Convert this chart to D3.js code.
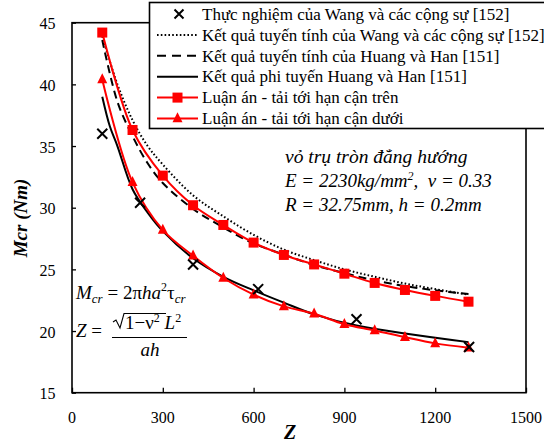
<!DOCTYPE html>
<html>
<head>
<meta charset="utf-8">
<title>Mcr vs Z</title>
<script src="https://cdn.jsdelivr.net/npm/d3@7/dist/d3.min.js"></script>
</head>
<body style="margin:0">
<div id="chart"></div>
<script>
// Critical torsional moment of an isotropic cylindrical shell versus Batdorf parameter Z
const xTicks = [0, 300, 600, 900, 1200, 1500];
const yTicks = [15, 20, 25, 30, 35, 40, 45];

// Experiment (Wang et al.)
const expZ = [100, 225, 400, 615, 940, 1312];
const expM = [36.0, 30.4, 25.4, 23.4, 20.95, 18.7];

// Linear result (Wang et al.)
const wangZ = [100, 150, 200, 250, 300, 400, 500, 600, 700, 800, 900, 1000, 1100, 1200, 1310];
const wangM = [43.9, 40.0, 37.1, 35.0, 33.5, 31.0, 29.3, 27.8, 26.6, 25.75, 25.0, 24.4, 23.85, 23.4, 22.95];

// Linear result (Huang and Han)
const huangLinZ = [100, 150, 200, 250, 300, 400, 500, 600, 700, 800, 900, 1000, 1100, 1200, 1310];
const huangLinM = [43.6, 38.6, 35.8, 33.6, 32.0, 29.9, 28.4, 27.1, 26.2, 25.35, 24.7, 24.1, 23.65, 23.3, 23.0];

// Nonlinear result (Huang and Han)
const huangNlZ = [100, 125, 150, 200, 250, 300, 400, 500, 600, 700, 800, 940, 1310];
const huangNlM = [39.0, 36.6, 35.0, 31.5, 29.6, 28.1, 25.9, 24.4, 23.3, 22.3, 21.35, 20.45, 19.1];

// Thesis: upper and lower bound critical loads
const boundZ = [100, 200, 300, 400, 500, 600, 700, 800, 900, 1000, 1100, 1200, 1310];
const upperM = [44.2, 36.3, 32.6, 30.2, 28.6, 27.17, 26.17, 25.4, 24.65, 23.9, 23.33, 22.85, 22.38];
const lowerM = [40.4, 32.06, 28.2, 26.1, 24.3, 22.95, 22.0, 21.4, 20.55, 20.05, 19.5, 19.0, 18.65];

const legendLabels = [
  "Thực nghiệm của Wang và các cộng sự [152]",
  "Kết quả tuyến tính của Wang và các cộng sự [152]",
  "Kết quả tuyến tính của Huang và Han [151]",
  "Kết quả phi tuyến Huang và Han [151]",
  "Luận án - tải tới hạn cận trên",
  "Luận án - tải tới hạn cận dưới"
];

const W = 544, H = 443;
const FONT = "Liberation Serif";
const RED = "#ff0000";

const svg = d3.select("#chart").append("svg").attr("width", W).attr("height", H);

// every label goes through this helper so it always carries the serif face
function label(parent, xPos, yPos, size, txt) {
  const t = parent.append("text").attr("font-family", FONT).attr("font-size", size)
    .attr("x", xPos).attr("y", yPos);
  if (txt !== undefined) t.text(txt);
  return t;
}
function run(t, txt, size) {
  const s = t.append("tspan").attr("font-family", FONT).text(txt);
  if (size) s.attr("font-size", size);
  return s;
}

const x = d3.scaleLinear().domain([0, 1500]).range([72, 526]);
const y = d3.scaleLinear().domain([15, 45]).range([392.7, 22.7]);

// inward tick marks from the axis generators; labels drawn with the serif helper
const gx = svg.append("g").attr("transform", `translate(0,${y(15)})`)
  .call(d3.axisBottom(x).tickValues(xTicks).tickFormat(() => "").tickSize(-5).tickSizeOuter(0));
const gy = svg.append("g").attr("transform", `translate(${x(0)},0)`)
  .call(d3.axisLeft(y).tickValues(yTicks).tickFormat(() => "").tickSize(-4).tickSizeOuter(0));
[gx, gy].forEach(g => {
  g.select(".domain").remove();
  g.selectAll(".tick text").remove();
  g.selectAll(".tick line").attr("stroke", "#000").attr("stroke-width", 1.3);
});
xTicks.forEach(v => label(svg, x(v), 422.5, 16, String(v)).attr("text-anchor", "middle"));
yTicks.forEach(v => label(svg, 55.5, y(v) + 6.5, 16, String(v)).attr("text-anchor", "end"));

// plot frame
svg.append("rect")
  .attr("x", x(0)).attr("y", y(45))
  .attr("width", x(1500) - x(0)).attr("height", y(15) - y(45))
  .attr("fill", "none").attr("stroke", "#000").attr("stroke-width", 1.6);

// axis titles
label(svg, 0, 0, 19, "Mcr (Nm)")
  .attr("transform", "translate(27,218) rotate(-90)")
  .attr("text-anchor", "middle").attr("font-weight", "bold").attr("font-style", "italic");
label(svg, 290, 439, 20, "Z")
  .attr("text-anchor", "middle").attr("font-weight", "bold").attr("font-style", "italic");

const zip = (zs, ms) => zs.map((z, i) => [z, ms[i]]);
const smooth = d3.line().x(d => x(d[0])).y(d => y(d[1])).curve(d3.curveCatmullRom.alpha(0.5));

const plot = svg.append("g");

// reference curves
plot.append("path").datum(zip(wangZ, wangM)).attr("d", smooth)
  .attr("fill", "none").attr("stroke", "#000").attr("stroke-width", 2)
  .attr("stroke-dasharray", "1.6,2.2");
plot.append("path").datum(zip(huangLinZ, huangLinM)).attr("d", smooth)
  .attr("fill", "none").attr("stroke", "#000").attr("stroke-width", 2)
  .attr("stroke-dasharray", "8,5");
plot.append("path").datum(zip(huangNlZ, huangNlM)).attr("d", smooth)
  .attr("fill", "none").attr("stroke", "#000").attr("stroke-width", 2);

// thesis curves
plot.append("path").datum(zip(boundZ, upperM)).attr("d", smooth)
  .attr("fill", "none").attr("stroke", RED).attr("stroke-width", 2);
plot.append("path").datum(zip(boundZ, lowerM)).attr("d", smooth)
  .attr("fill", "none").attr("stroke", RED).attr("stroke-width", 2);

const sq = 10;
plot.selectAll("rect.up").data(zip(boundZ, upperM)).join("rect").attr("class", "up")
  .attr("x", d => x(d[0]) - sq / 2).attr("y", d => y(d[1]) - sq / 2)
  .attr("width", sq).attr("height", sq).attr("fill", RED);

const triPath = (cx, cy, s) => `M${cx},${cy - s * 0.62}L${cx + s / 2},${cy + s * 0.38}L${cx - s / 2},${cy + s * 0.38}Z`;
plot.selectAll("path.lo").data(zip(boundZ, lowerM)).join("path").attr("class", "lo")
  .attr("d", d => triPath(x(d[0]), y(d[1]), 10)).attr("fill", RED);

const crossPath = (cx, cy, r) => `M${cx - r},${cy - r}L${cx + r},${cy + r}M${cx - r},${cy + r}L${cx + r},${cy - r}`;
plot.selectAll("path.exp").data(zip(expZ, expM)).join("path").attr("class", "exp")
  .attr("d", d => crossPath(x(d[0]), y(d[1]), 5)).attr("stroke", "#000").attr("stroke-width", 2).attr("fill", "none");

// legend
const lg = svg.append("g");
lg.append("rect").attr("x", 149.5).attr("y", 2.5).attr("width", 400).attr("height", 126)
  .attr("fill", "#fff").attr("stroke", "#000").attr("stroke-width", 1.6);
const rowY = i => 14 + i * 20.9;
const lx0 = 157, lx1 = 198;
legendLabels.forEach((t, i) => label(lg, 202, rowY(i) + 5.7, 17, t));
lg.append("path").attr("d", crossPath(179, rowY(0), 4.5)).attr("stroke", "#000").attr("stroke-width", 2);
lg.append("line").attr("x1", lx0).attr("x2", lx1).attr("y1", rowY(1)).attr("y2", rowY(1))
  .attr("stroke", "#000").attr("stroke-width", 2).attr("stroke-dasharray", "1.6,2.2");
lg.append("line").attr("x1", lx0).attr("x2", lx1).attr("y1", rowY(2)).attr("y2", rowY(2))
  .attr("stroke", "#000").attr("stroke-width", 2).attr("stroke-dasharray", "9,6");
lg.append("line").attr("x1", lx0).attr("x2", lx1).attr("y1", rowY(3)).attr("y2", rowY(3))
  .attr("stroke", "#000").attr("stroke-width", 2);
lg.append("line").attr("x1", lx0).attr("x2", lx1).attr("y1", rowY(4)).attr("y2", rowY(4))
  .attr("stroke", RED).attr("stroke-width", 2);
lg.append("rect").attr("x", 177.5 - 5).attr("y", rowY(4) - 5).attr("width", 10).attr("height", 10).attr("fill", RED);
lg.append("line").attr("x1", lx0).attr("x2", lx1).attr("y1", rowY(5)).attr("y2", rowY(5))
  .attr("stroke", RED).attr("stroke-width", 2);
lg.append("path").attr("d", triPath(177.5, rowY(5), 10)).attr("fill", RED);

// shell description
label(svg, 285, 163, 19.5, "vỏ trụ tròn đẳng hướng").attr("font-style", "italic");
const l2 = label(svg, 285, 187, 19).attr("font-style", "italic");
run(l2, "E = 2230kg/mm");
run(l2, "2", 12).attr("dy", -7);
run(l2, ",\u00a0\u00a0ν = 0.33").attr("dy", 7);
label(svg, 285, 211, 19, "R = 32.75mm, h = 0.2mm").attr("font-style", "italic");

// formulas
const f1 = label(svg, 76, 299, 19);
run(f1, "M").attr("font-style", "italic");
run(f1, "cr", 13).attr("font-style", "italic").attr("dy", 4);
run(f1, " = 2π").attr("dy", -4);
run(f1, "ha").attr("font-style", "italic");
run(f1, "2", 12).attr("dy", -8);
run(f1, "τ").attr("dy", 8);
run(f1, "cr", 13).attr("font-style", "italic").attr("dy", 4);

const zt = label(svg, 76, 337, 19);
run(zt, "Z").attr("font-style", "italic");
run(zt, " =");
svg.append("path").attr("d", "M113,322 L116,320 L120,328 L124,313.5 L166,313.5")
  .attr("fill", "none").attr("stroke", "#000").attr("stroke-width", 1.1);
const num = label(svg, 125, 328.5, 19);
run(num, "1−ν");
run(num, "2", 12).attr("dy", -7);
run(num, " L").attr("dy", 7).attr("font-style", "italic");
run(num, "2", 12).attr("dy", -7);
svg.append("line").attr("x1", 112).attr("x2", 187).attr("y1", 337.5).attr("y2", 337.5)
  .attr("stroke", "#000").attr("stroke-width", 1);
label(svg, 150, 356, 19, "ah").attr("text-anchor", "middle").attr("font-style", "italic");
</script>
</body>
</html>
